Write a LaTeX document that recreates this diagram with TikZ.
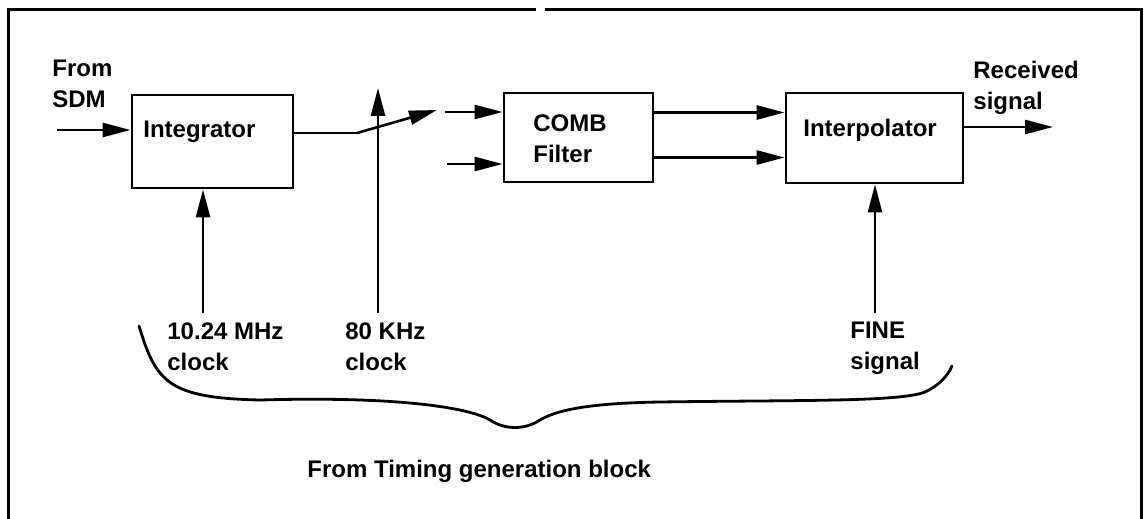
\documentclass[tikz,border=0pt]{standalone}
\usepackage{fontspec}
\setmainfont{Liberation Sans}
\usepackage{tikz}
\usetikzlibrary{arrows.meta, positioning, calc}
\definecolor{mydark}{RGB}{0,0,0}
\tikzset{
  block/.style={rectangle, draw=mydark, line width=1.4pt, inner sep=0pt},
  lbl/.style={inner sep=0pt, align=left, anchor=north west,
    font=\fontsize{12}{15.5}\selectfont\bfseries},
  arrow/.style={-{Triangle[length=14pt, width=7pt]}, line width=1.3pt, color=mydark},
  line/.style={line width=1.3pt, color=mydark},
  frameline/.style={line width=1.5pt, color=mydark},
  brace/.style={line width=1.4pt, color=mydark, line cap=round}
}
\begin{document}
\begin{tikzpicture}[x=0.5pt, y=-0.5pt]
  \useasboundingbox (0,0) rectangle (1146,519);
  % outer frame, open at the bottom
  \draw[frameline] (8,519) -- (8,10) -- (536,10);
  \draw[frameline] (545,10) -- (1141,10) -- (1141,519);

  % blocks
  \node[block, minimum width=80.5pt, minimum height=46.5pt] (integ) at (212.5,141.5) {};
  \node[block, minimum width=74.5pt, minimum height=44.5pt] (comb) at (578.5,137.5) {};
  \node[block, minimum width=88.5pt, minimum height=45pt] (interp) at (874.5,138) {};
  \node[lbl] (integtxt) at (143,121) {Integrator};
  \node[lbl] (combtxt) at (533,114) {COMB\\Filter};
  \node[lbl] (interptxt) at (803,119) {Interpolator};

  % free ends
  \coordinate (sdmin) at (57,130);
  \coordinate (swA) at (357,133);
  \coordinate (swB) at (437,110);
  \coordinate (clkA) at (203,313);
  \coordinate (clkB) at (378,313);
  \coordinate (clkBtop) at (378,88);
  \coordinate (combinA) at (445,112);
  \coordinate (combinB) at (447,164);
  \coordinate (outpt) at (1053,127);
  \coordinate (fine) at (875,313);

  % signal path
  \draw[arrow] (sdmin) -- (sdmin -| integ.west);
  \draw[line] (integ.east |- swA) -- (swA);
  \draw[arrow] (swA) -- (swB);
  \draw[arrow] (combinA) -- (combinA -| comb.west);
  \draw[arrow] (combinB) -- (combinB -| comb.west);
  \draw[arrow] ([yshift=12.5pt]comb.east) -- ([yshift=12.5pt]comb.east -| interp.west);
  \draw[arrow] ([yshift=-10pt]comb.east) -- ([yshift=-10pt]comb.east -| interp.west);
  \draw[arrow] (interp.east |- outpt) -- (outpt);

  % clocks
  \draw[arrow] (clkA) -- (clkA |- integ.south);
  \draw[arrow] (clkB) -- (clkBtop);
  \draw[arrow] (fine) -- (fine |- interp.south);

  % labels
  \node[lbl] (sdm) at (52,60) {From\\SDM};
  \node[lbl] (recv) at (973,61) {Received\\signal};
  \node[lbl] (clkAtxt) at (167,322) {10.24 MHz\\clock};
  \node[lbl] (clkBtxt) at (345,322) {80 KHz\\clock};
  \node[lbl] (finetxt) at (850,322) {FINE\\signal};

  % brace to the timing block
  \draw[brace] (139,326) .. controls (156,382) and (168,398) .. (260,400)
    .. controls (400,396) and (470,408) .. (490,420)
    .. controls (505,430) and (525,430) .. (540,420)
    .. controls (560,408) and (600,403) .. (660,402)
    .. controls (800,400) and (900,402) .. (925,392)
    .. controls (940,385) and (948,375) .. (952,366);
  \node[lbl] (timing) at (307,460) {From Timing generation block};
\end{tikzpicture}
\end{document}
